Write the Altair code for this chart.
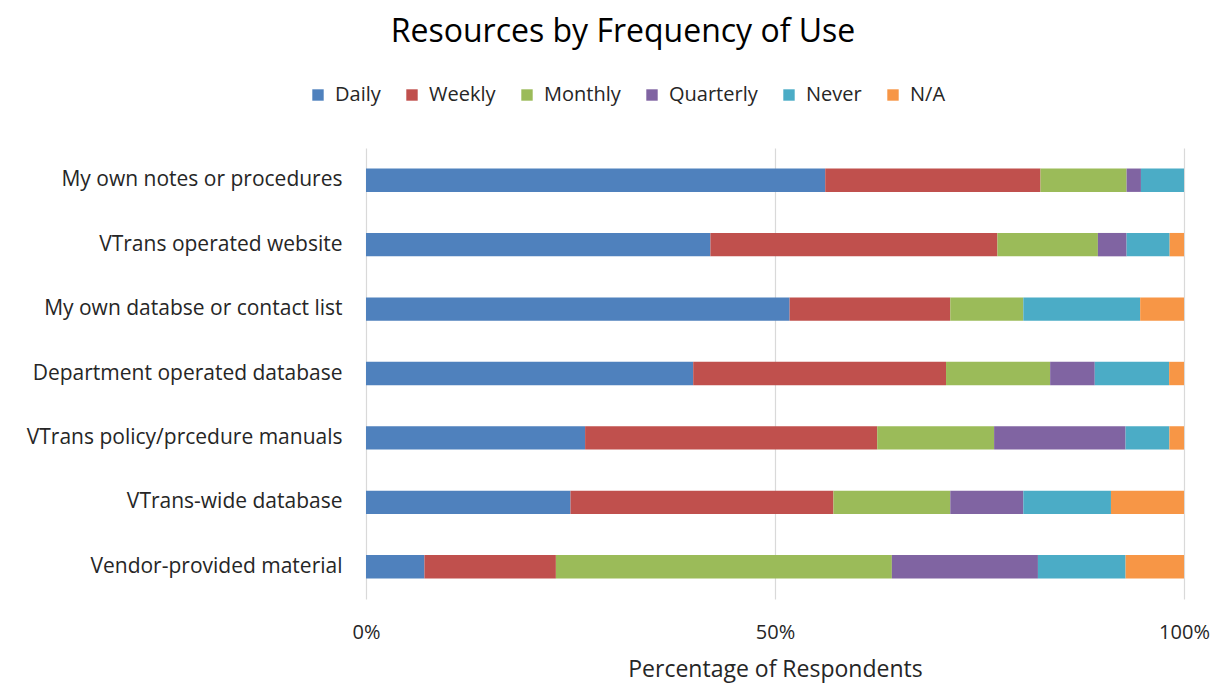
import altair as alt
import pandas as pd

resources = [
    "My own notes or procedures",
    "VTrans operated website",
    "My own databse or contact list",
    "Department operated database",
    "VTrans policy/prcedure manuals",
    "VTrans-wide database",
    "Vendor-provided material",
]
frequencies = ["Daily", "Weekly", "Monthly", "Quarterly", "Never", "N/A"]
colors = ["#4F81BD", "#C0504D", "#9BBB59", "#8064A2", "#4BACC6", "#F79646"]

# respondent counts
daily = [32, 24, 29, 22, 15, 14, 4]
weekly = [15, 20, 11, 17, 20, 18, 9]
monthly = [6, 7, 5, 7, 8, 8, 23]
quarterly = [1, 2, 0, 3, 9, 5, 10]
never = [3, 3, 8, 5, 3, 6, 6]
na = [0, 1, 3, 1, 1, 5, 4]

series = [daily, weekly, monthly, quarterly, never, na]
rows = []
for fi, (f, vals) in enumerate(zip(frequencies, series)):
    for r, v in zip(resources, vals):
        rows.append({"Resource": r, "Frequency": f, "Count": v, "order": fi})
df = pd.DataFrame(rows)

FONT = "Open Sans"

chart = alt.Chart(df).mark_bar().encode(
    y=alt.Y("Resource:N", sort=resources,
            scale=alt.Scale(paddingInner=0.637, paddingOuter=0.3185),
            axis=alt.Axis(title=None, ticks=False, domain=False, labelPadding=24,
                          labelFontSize=21, labelFont=FONT, labelColor="#262626",
                          labelLimit=400)),
    x=alt.X("Count:Q", stack="normalize",
            scale=alt.Scale(domain=[0, 1]),
            axis=alt.Axis(title="Percentage of Respondents", values=[0, 0.5, 1],
                          format="%", ticks=False, domain=False, grid=True,
                          gridColor="#D9D9D9", gridWidth=1.2, labelFlush=False,
                          labelPadding=23, labelFontSize=20, labelFont=FONT,
                          labelColor="#262626", titleFont=FONT, titleFontSize=23,
                          titleFontWeight="normal", titleColor="#262626",
                          titlePadding=16)),
    color=alt.Color("Frequency:N",
                    scale=alt.Scale(domain=frequencies, range=colors),
                    legend=alt.Legend(orient="none", legendX=-58, legendY=-63,
                                      direction="horizontal", title=None,
                                      symbolType="square", symbolSize=130,
                                      symbolStrokeWidth=0, labelFont=FONT,
                                      labelFontSize=20, labelColor="#262626",
                                      labelOffset=7, columnPadding=21)),
    order=alt.Order("order:Q"),
).properties(
    width=818,
    height=451,
    padding={"left": 358, "top": 140, "right": 29, "bottom": 85},
    autosize=alt.AutoSizeParams(type="none"),
    title=alt.TitleParams("Resources by Frequency of Use", font=FONT, fontSize=32,
                          fontWeight="normal", color="#000000", anchor="middle",
                          dx=-152, offset=36),
).configure_view(stroke=None)

chart.save("out.html", embed_options={"renderer": "svg", "actions": False})
